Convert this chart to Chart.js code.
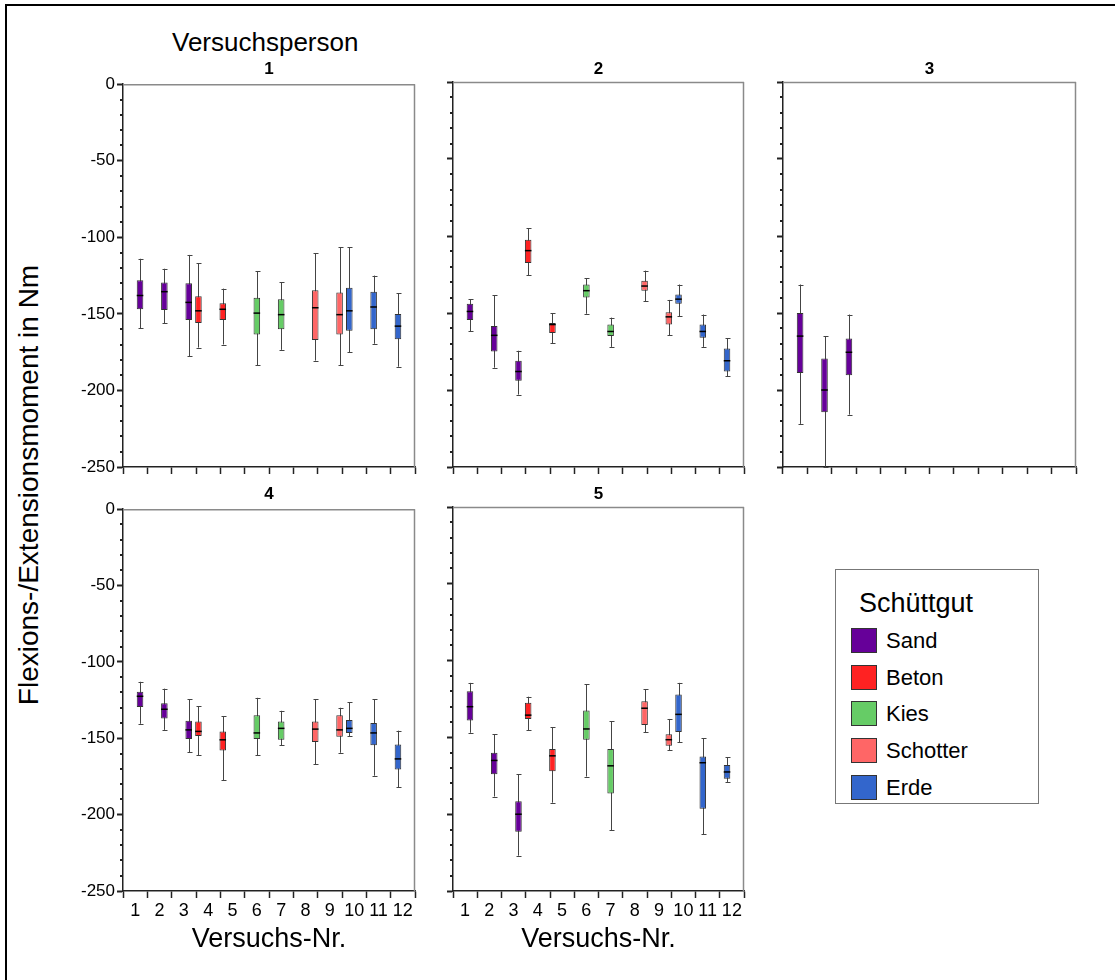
<!DOCTYPE html>
<html>
<head>
<meta charset="utf-8">
<script src="https://cdn.jsdelivr.net/npm/chart.js@4/dist/chart.umd.min.js"></script>
<style>
body { margin: 0; background: #fff; font-family: "Liberation Sans", Arial, sans-serif; }
#page { position: relative; width: 1115px; height: 980px; overflow: hidden; }
#frame { position: absolute; left: 5px; top: 4px; width: 1300px; height: 1200px; border-top: 2px solid #000; border-left: 2px solid #000; }
.panel { position: absolute; }
.txt { position: absolute; white-space: nowrap; color: #000; }
#legend { position: absolute; left: 835px; top: 569px; width: 204px; height: 235px; border: 1px solid #777; box-sizing: border-box; }
#legend .ttl { position: absolute; left: 23px; top: 18px; font-size: 27px; }
#legend .item { position: absolute; left: 15px; height: 26px; font-size: 22px; line-height: 26px; }
#legend .sw { display: inline-block; width: 26px; height: 25px; border: 1px solid #333; box-sizing: border-box; vertical-align: top; margin-right: 9px; }
</style>
</head>
<body>
<div id="page">
  <div id="frame"></div>
  <div class="txt" style="left:172px;top:27px;font-size:26px;">Versuchsperson</div>
  <div class="txt" id="ytitle" style="left:29px;top:485px;font-size:28px;transform:translate(-50%,-50%) rotate(-90deg);">Flexions-/Extensionsmoment in Nm</div>
  <div id="legend"></div>
</div>
<script>
// Versuchs-Nr. (x categories)
const versuche = ['1', '2', '3', '4', '5', '6', '7', '8', '9', '10', '11', '12'];
// Schüttgut of each Versuch
const material = ['Sand', 'Sand', 'Sand', 'Beton', 'Beton', 'Kies', 'Kies', 'Schotter', 'Schotter', 'Erde', 'Erde', 'Erde'];
const schuettgut = ['Sand', 'Beton', 'Kies', 'Schotter', 'Erde'];
const farben = ['#660099', '#ff2222', '#66cc66', '#ff6666', '#3366cc'];
// order of the boxes inside a cluster (left to right)
const clusterOrder = ['Beton', 'Erde', 'Kies', 'Sand', 'Schotter'];
const yTicks = [0, -50, -100, -150, -200, -250];

// per Versuchsperson: [min, Q1, Median, Q3, max] in Nm
const vp1 = [
  [-159.5, -147, -138, -128, -114],
  [-156, -147.5, -135.5, -129.5, -120.5],
  [-177.5, -154, -142.5, -130, -111.5],
  [-172, -156, -148, -138.5, -117],
  [-170, -154, -147, -143, -133.5],
  [-183.5, -163.5, -149.5, -139.5, -122],
  [-173.5, -160, -150.5, -140.5, -129.5],
  [-180.5, -167, -146, -134.5, -110.5],
  [-183.5, -163.5, -150.5, -136, -106.5],
  [-175, -161, -148, -133, -106.5],
  [-169.5, -160, -145.5, -135.5, -125],
  [-184.5, -166.5, -158, -150, -136.5]
];
const vp2 = [
  [-162, -154.5, -149, -144, -141],
  [-185.5, -175, -164.5, -158.5, -138.5],
  [-203, -194, -188, -181, -174.5],
  [-125.5, -117.5, -109.5, -102.5, -95],
  [-169.5, -163, -157.5, -156.5, -150],
  [-150.5, -140, -135.5, -131.5, -127.5],
  [-172, -165, -162, -157.5, -153],
  [-142.5, -135.5, -132.5, -129, -122.5],
  [-164.5, -157.5, -152.5, -149.5, -141.5],
  [-152, -144, -141, -138, -131.5],
  [-172, -166, -162, -157.5, -151],
  [-191, -188, -181, -173, -166.5]
];
const vp3 = [
  [-222, -189, -165, -150, -131.5],
  [-250, -214.5, -200, -179.5, -165],
  [-216, -190.5, -175.5, -166.5, -151],
  null, null, null, null, null, null, null, null, null
];
const vp4 = [
  [-140.5, -129.5, -122.5, -119.5, -113],
  [-144.5, -137, -131, -127, -117.5],
  [-159, -150.5, -144.5, -138.5, -124.5],
  [-161, -148.5, -145.5, -139, -129],
  [-177.5, -158, -151, -145.5, -135.5],
  [-161, -150.5, -146.5, -135, -123.5],
  [-154.5, -151, -143.5, -139, -132],
  [-167, -152.5, -144, -139, -124.5],
  [-159.5, -149, -144.5, -135, -130],
  [-148.5, -146.5, -143.5, -138, -126.5],
  [-174.5, -154.5, -146.5, -140, -124.5],
  [-182, -170.5, -163.5, -154, -145]
];
const vp5 = [
  [-147, -139, -130, -120, -114.5],
  [-188.5, -174, -165, -160, -148],
  [-227, -211.5, -200, -191.5, -174],
  [-145.5, -138, -135.5, -127.5, -123.5],
  [-192.5, -172, -162, -157.5, -143.5],
  [-175.5, -151.5, -144.5, -132.5, -115.5],
  [-210.5, -186.5, -168.5, -157.5, -139.5],
  [-146.5, -142, -131, -126.5, -118.5],
  [-158.5, -155.5, -151.5, -148, -138],
  [-153, -146.5, -135, -122, -114.5],
  [-213, -196.5, -166.5, -162.5, -150.5],
  [-179, -177, -172.5, -168, -163]
];

const panels = [
  { title: '1', stats: vp1, left: 123, top: 82, w: 292, h: 385, yLab: true, xLab: false },
  { title: '2', stats: vp2, left: 453, top: 82, w: 291, h: 385, yLab: false, xLab: false },
  { title: '3', stats: vp3, left: 783, top: 82, w: 293, h: 385, yLab: false, xLab: false },
  { title: '4', stats: vp4, left: 123, top: 507, w: 292, h: 384, yLab: true, xLab: true },
  { title: '5', stats: vp5, left: 453, top: 507, w: 291, h: 384, yLab: false, xLab: true }
];

const px = v => Math.round(v) + 0.5;

// whiskers, medians, frame and minor ticks
const boxPlot = {
  id: 'boxPlot',
  beforeDatasetsDraw(chart) {
    const ctx = chart.ctx, y = chart.scales.y;
    ctx.save();
    ctx.strokeStyle = '#444';
    ctx.lineWidth = 1;
    chart.data.datasets.forEach((ds, i) => {
      chart.getDatasetMeta(i).data.forEach((bar, j) => {
        const s = ds.stats[j];
        if (!s) return;
        const x = px(bar.x), lo = y.getPixelForValue(s[0]), hi = y.getPixelForValue(s[4]);
        ctx.beginPath();
        ctx.moveTo(x, lo); ctx.lineTo(x, hi);
        ctx.moveTo(x - 2, px(lo)); ctx.lineTo(x + 3, px(lo));
        ctx.moveTo(x - 2, px(hi)); ctx.lineTo(x + 3, px(hi));
        ctx.stroke();
      });
    });
    ctx.restore();
  },
  afterDatasetsDraw(chart) {
    const ctx = chart.ctx, y = chart.scales.y;
    ctx.save();
    ctx.strokeStyle = '#000';
    ctx.lineWidth = 1.5;
    chart.data.datasets.forEach((ds, i) => {
      chart.getDatasetMeta(i).data.forEach((bar, j) => {
        const s = ds.stats[j];
        if (!s) return;
        const m = y.getPixelForValue(s[2]);
        ctx.beginPath();
        ctx.moveTo(bar.x - bar.width / 2, m); ctx.lineTo(bar.x + bar.width / 2, m);
        ctx.stroke();
      });
    });
    ctx.restore();
  },
  afterDraw(chart) {
    const ctx = chart.ctx, a = chart.chartArea, y = chart.scales.y;
    ctx.save();
    ctx.strokeStyle = '#8a8a8a';
    ctx.lineWidth = 1.5;
    ctx.beginPath();
    ctx.moveTo(a.left, a.top + 0.5); ctx.lineTo(a.right, a.top + 0.5);
    ctx.moveTo(a.right - 0.5, a.top); ctx.lineTo(a.right - 0.5, a.bottom);
    ctx.stroke();
    ctx.strokeStyle = '#222';
    ctx.lineWidth = 2;
    ctx.beginPath();
    for (let v = -10; v > -250; v -= 10) {
      if (v % 50 === 0) continue;
      const yy = Math.round(y.getPixelForValue(v));
      ctx.moveTo(a.left - 3, yy); ctx.lineTo(a.left, yy);
    }
    ctx.stroke();
    ctx.restore();
  }
};

const page = document.getElementById('page');

panels.forEach(p => {
  const xh = p.xLab ? 70 : 20;
  const wrap = document.createElement('div');
  wrap.className = 'panel';
  wrap.style.left = (p.left - 60) + 'px';
  wrap.style.top = (p.top - 10) + 'px';
  const canvas = document.createElement('canvas');
  canvas.width = p.w + 70;
  canvas.height = p.h + 10 + xh;
  canvas.style.width = canvas.width + 'px';
  canvas.style.height = canvas.height + 'px';
  wrap.appendChild(canvas);
  page.appendChild(wrap);

  const title = document.createElement('div');
  title.className = 'txt';
  title.textContent = p.title;
  title.style.fontSize = '17px';
  title.style.fontWeight = 'bold';
  title.style.left = (p.left + p.w / 2) + 'px';
  title.style.top = (p.top - 23) + 'px';
  title.style.transform = 'translateX(-50%)';
  page.appendChild(title);

  const datasets = clusterOrder.map(m => {
    const k = schuettgut.indexOf(m);
    return {
      label: m,
      data: versuche.map((v, j) => (material[j] === m && p.stats[j]) ? [p.stats[j][1], p.stats[j][3]] : null),
      stats: versuche.map((v, j) => (material[j] === m && p.stats[j]) ? p.stats[j] : null),
      backgroundColor: farben[k],
      borderColor: '#333',
      borderWidth: 1,
      borderSkipped: false,
      categoryPercentage: 1,
      barPercentage: 1.35
    };
  });

  new Chart(canvas, {
    type: 'bar',
    data: { labels: versuche, datasets: datasets },
    options: {
      responsive: false,
      animation: false,
      devicePixelRatio: 1,
      layout: { padding: { top: 10, right: 10, left: 0, bottom: 0 } },
      plugins: { legend: { display: false }, tooltip: { enabled: false } },
      scales: {
        x: {
          grid: { display: true, drawOnChartArea: false, drawTicks: true, tickLength: 7, tickWidth: 1.5, tickColor: '#222' },
          border: { display: true, color: '#222', width: 1.5 },
          ticks: { display: p.xLab, color: '#000', font: { family: 'Liberation Sans', size: 18 }, padding: 2, maxRotation: 0, autoSkip: false },
          title: { display: p.xLab, text: 'Versuchs-Nr.', color: '#000', font: { family: 'Liberation Sans', size: 27 }, padding: { top: 0, bottom: 5 } },
          afterFit(s) { s.height = xh; }
        },
        y: {
          min: -250,
          max: 0,
          afterBuildTicks(s) { s.ticks = yTicks.map(v => ({ value: v })); },
          grid: { display: true, drawOnChartArea: false, drawTicks: true, tickLength: 6, tickWidth: 2, tickColor: '#222' },
          border: { display: true, color: '#222', width: 1.5 },
          ticks: { display: p.yLab, color: '#000', font: { family: 'Liberation Sans', size: 17 }, padding: 2 },
          afterFit(s) { s.width = 60; }
        }
      }
    },
    plugins: [boxPlot]
  });
});

// legend
const legend = document.getElementById('legend');
legend.innerHTML = '<div class="ttl">Schüttgut</div>';
schuettgut.forEach((name, i) => {
  const item = document.createElement('div');
  item.className = 'item';
  item.style.top = (58 + i * 36.7) + 'px';
  item.innerHTML = '<span class="sw" style="background:' + farben[i] + '"></span>' + name;
  legend.appendChild(item);
});
</script>
</body>
</html>
